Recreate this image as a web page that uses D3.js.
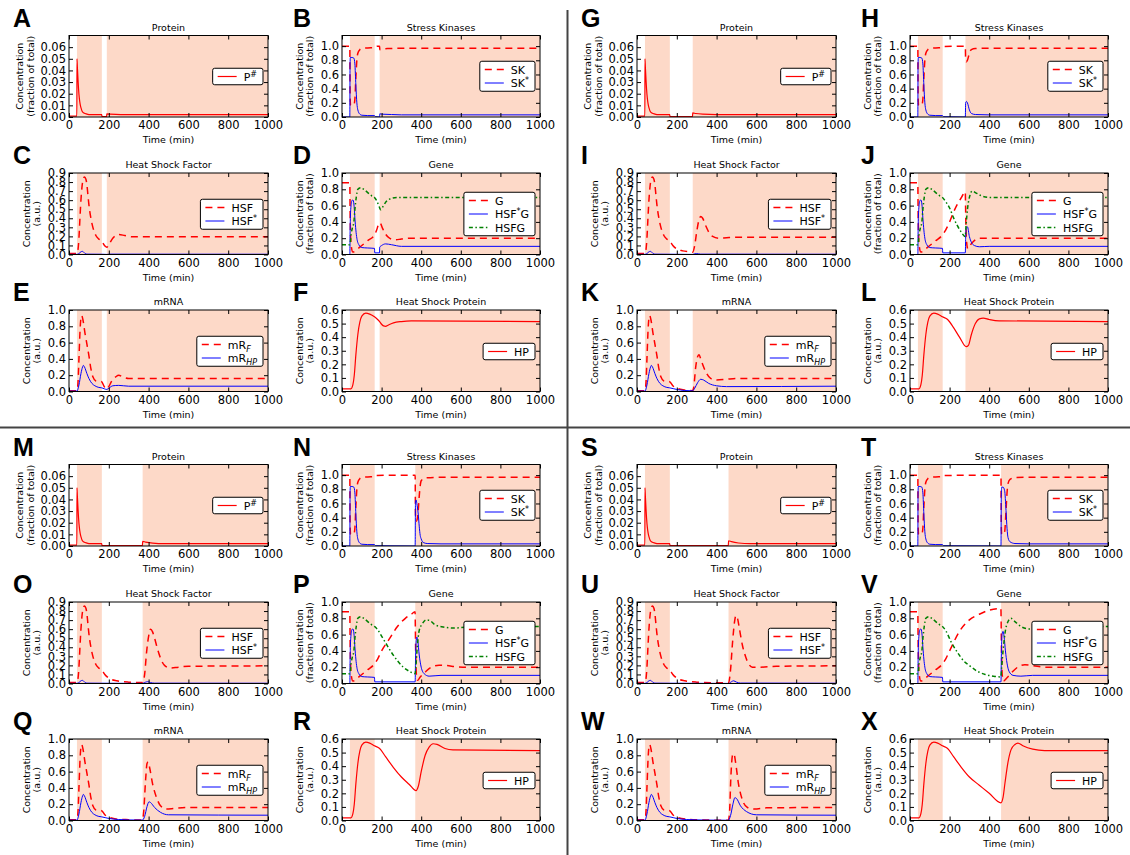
<!DOCTYPE html>
<html>
<head>
<meta charset="utf-8">
<script src="https://cdn.jsdelivr.net/npm/d3@7"></script>
<style>
  body { margin: 0; background: #fff; }
  svg { display: block; font-family: "DejaVu Sans", sans-serif; }
</style>
</head>
<body>
<script>
// time axis and heat-shock protocol (minutes)
const xTicks = [0, 200, 400, 600, 800, 1000];
const heatOn = 40, heatOff = 165;
const gapEnds = [190, 280, 370, 460];   // second heat shock starts here, one per quadrant
const letters = [["A","B","C","D","E","F"], ["G","H","I","J","K","L"],
                 ["M","N","O","P","Q","R"], ["S","T","U","V","W","X"]];

const protTicks = [0, 0.01, 0.02, 0.03, 0.04, 0.05, 0.06];
const fracTicks = [0, 0.2, 0.4, 0.6, 0.8, 1.0];
const hsfTicks = [0, 0.1, 0.2, 0.3, 0.4, 0.5, 0.6, 0.7, 0.8, 0.9];
const hpTicks = [0, 0.1, 0.2, 0.3, 0.4, 0.5, 0.6];

// first heat shock (identical in every quadrant), then one tail per quadrant
const prot1 = [[0,0.0008],[39.5,0.0008],[40,0.05],[42,0.043],[45,0.033],[48,0.024],[52,0.016],[56,0.011],[60,0.008],[66,0.005],[75,0.0035],[90,0.0025],[110,0.002],[164,0.002]];
const protTail = [
  [[166,0.0004],[189,0.0004],[190,0.0026],[205,0.0024],[260,0.002],[1000,0.002]],
  [[166,0.0004],[279,0.0004],[280,0.0035],[295,0.003],[330,0.0024],[400,0.002],[1000,0.002]],
  [[166,0.0004],[369,0.0004],[370,0.004],[385,0.0034],[420,0.0025],[480,0.002],[1000,0.002]],
  [[166,0.0004],[459,0.0004],[460,0.0045],[475,0.0037],[510,0.0026],[570,0.002],[1000,0.002]]
];

const sk1 = [[0,1],[39.5,1],[41,0.3],[43,0.17],[50,0.16],[60,0.17],[65,0.25],[70,0.55],[75,0.8],[80,0.9],[90,0.95],[100,0.965],[130,0.975],[164,0.98]];
const skTail = [
  [[170,0.995],[189.5,1],[191,0.95],[200,0.955],[230,0.965],[300,0.97],[1000,0.97]],
  [[170,0.995],[279.5,1],[281,0.8],[285,0.78],[290,0.8],[300,0.9],[310,0.95],[330,0.965],[400,0.97],[1000,0.97]],
  [[170,0.995],[369.5,1],[371,0.45],[375,0.35],[380,0.38],[385,0.5],[390,0.7],[395,0.85],[400,0.92],[420,0.96],[500,0.97],[1000,0.97]],
  [[170,0.995],[459.5,1],[461,0.3],[463,0.17],[470,0.16],[478,0.2],[485,0.5],[490,0.75],[495,0.88],[505,0.94],[530,0.965],[600,0.97],[1000,0.97]]
];
const skAct1 = [[0,0],[39.5,0],[40.5,0.7],[42,0.84],[50,0.84],[60,0.83],[65,0.75],[70,0.45],[75,0.2],[80,0.1],[90,0.04],[100,0.025],[130,0.02],[164,0.02]];
const skActTail = [
  [[170,0.004],[189.5,0],[191,0.045],[200,0.04],[250,0.035],[300,0.03],[1000,0.03]],
  [[170,0.004],[279.5,0],[281,0.2],[285,0.22],[290,0.2],[300,0.1],[310,0.05],[330,0.035],[400,0.03],[1000,0.03]],
  [[170,0.004],[369.5,0],[371,0.6],[374,0.65],[378,0.6],[385,0.45],[390,0.28],[395,0.15],[400,0.1],[410,0.05],[430,0.035],[500,0.03],[1000,0.03]],
  [[170,0.004],[459.5,0],[461,0.7],[463,0.83],[470,0.83],[478,0.78],[485,0.5],[490,0.25],[495,0.12],[505,0.06],[530,0.035],[600,0.03],[1000,0.03]]
];

const hsf1 = [[0,0.01],[40,0.01],[45,0.05],[50,0.18],[55,0.4],[60,0.6],[65,0.74],[70,0.82],[78,0.855],[85,0.83],[90,0.77],[95,0.66],[100,0.55],[110,0.4],[120,0.3],[135,0.21],[150,0.17],[164,0.15]];
const hsfTail = [
  [[175,0.11],[190,0.08],[200,0.11],[220,0.18],[250,0.22],[280,0.21],[320,0.195],[400,0.195],[1000,0.195]],
  [[180,0.1],[200,0.06],[230,0.04],[260,0.03],[280,0.025],[290,0.1],[300,0.25],[310,0.37],[320,0.42],[330,0.4],[345,0.32],[360,0.25],[380,0.2],[410,0.18],[450,0.185],[500,0.19],[1000,0.19]],
  [[180,0.1],[200,0.06],[240,0.03],[300,0.015],[370,0.01],[380,0.1],[390,0.35],[400,0.52],[410,0.6],[420,0.57],[430,0.5],[445,0.38],[460,0.28],[480,0.2],[510,0.17],[550,0.18],[600,0.19],[1000,0.195]],
  [[180,0.1],[200,0.06],[240,0.03],[300,0.015],[400,0.008],[460,0.008],[470,0.15],[480,0.45],[490,0.68],[497,0.75],[505,0.72],[515,0.6],[530,0.42],[545,0.3],[560,0.22],[580,0.18],[620,0.18],[700,0.19],[1000,0.195]]
];
const hsfAct1 = [[0,0.002],[40,0.002],[50,0.01],[60,0.03],[66,0.035],[72,0.03],[80,0.012],[90,0.004],[164,0.003]];
const hsfActTail = [
  [[190,0.001],[205,0.004],[1000,0.003]],
  [[280,0.001],[290,0.008],[300,0.01],[320,0.004],[1000,0.003]],
  [[370,0.001],[385,0.015],[395,0.02],[410,0.01],[430,0.004],[1000,0.003]],
  [[460,0.001],[475,0.02],[485,0.03],[500,0.015],[520,0.005],[1000,0.003]]
];

// gene states: free G, HSF*G, HSFG
const gFree1 = [[0,0.88],[39.5,0.88],[41,0.5],[43,0.25],[47,0.1],[55,0.03],[65,0.04],[80,0.07],[100,0.11],[130,0.17],[164,0.24]];
const gFreeTail = [
  [[175,0.3],[189,0.39],[195,0.38],[205,0.32],[220,0.25],[240,0.2],[270,0.18],[300,0.19],[350,0.2],[1000,0.2]],
  [[180,0.3],[200,0.4],[220,0.52],[240,0.62],[260,0.7],[279,0.77],[282,0.4],[286,0.15],[292,0.07],[300,0.1],[320,0.16],[350,0.2],[400,0.2],[1000,0.2]],
  [[180,0.3],[200,0.4],[240,0.55],[280,0.7],[320,0.8],[350,0.85],[369,0.88],[372,0.4],[376,0.1],[382,0.04],[395,0.08],[420,0.14],[450,0.2],[490,0.225],[530,0.22],[580,0.205],[650,0.2],[1000,0.2]],
  [[180,0.3],[200,0.4],[250,0.64],[300,0.78],[350,0.85],[400,0.9],[459,0.92],[462,0.4],[466,0.1],[472,0.03],[490,0.07],[520,0.15],[550,0.21],[580,0.23],[620,0.22],[680,0.2],[1000,0.2]]
];
const gAct1 = [[0,0],[39.5,0],[41,0.3],[44,0.55],[50,0.66],[55,0.67],[60,0.62],[65,0.45],[70,0.3],[75,0.2],[85,0.12],[100,0.085],[130,0.08],[164,0.075]];
const gActTail = [
  [[165.5,0.02],[189.5,0.02],[190.5,0.09],[200,0.11],[220,0.13],[250,0.12],[300,0.1],[1000,0.1]],
  [[165.5,0.02],[279.5,0.02],[281,0.2],[285,0.33],[290,0.34],[300,0.22],[310,0.15],[325,0.11],[350,0.095],[400,0.1],[1000,0.1]],
  [[165.5,0.02],[369.5,0.02],[371,0.25],[374,0.5],[378,0.57],[383,0.52],[390,0.35],[400,0.2],[415,0.12],[440,0.09],[500,0.1],[1000,0.1]],
  [[165.5,0.02],[459.5,0.02],[461,0.3],[465,0.6],[470,0.64],[475,0.58],[482,0.4],[490,0.25],[500,0.15],[520,0.1],[560,0.09],[620,0.1],[1000,0.1]]
];
const gBound1 = [[0,0.12],[39.5,0.12],[42,0.15],[46,0.25],[52,0.32],[60,0.4],[65,0.55],[72,0.7],[80,0.8],[95,0.82],[110,0.8],[130,0.76],[150,0.72],[164,0.7]];
const gBoundTail = [
  [[175,0.66],[189,0.58],[195,0.55],[205,0.58],[220,0.64],[240,0.68],[280,0.7],[1000,0.7]],
  [[180,0.65],[200,0.57],[220,0.45],[240,0.35],[260,0.27],[279,0.22],[283,0.35],[290,0.55],[300,0.7],[315,0.78],[330,0.76],[360,0.72],[400,0.7],[1000,0.7]],
  [[180,0.66],[200,0.58],[220,0.5],[250,0.38],[280,0.28],[310,0.2],[340,0.15],[369,0.12],[373,0.2],[380,0.45],[390,0.65],[405,0.73],[425,0.78],[445,0.77],[470,0.72],[520,0.69],[560,0.68],[620,0.69],[700,0.7],[1000,0.7]],
  [[180,0.65],[210,0.5],[240,0.38],[270,0.28],[300,0.22],[340,0.15],[380,0.11],[420,0.09],[459,0.08],[463,0.2],[470,0.4],[480,0.62],[495,0.76],[510,0.8],[530,0.76],[560,0.7],[600,0.67],[650,0.68],[700,0.7],[1000,0.7]]
];

const mrf1 = [[0,0.01],[40,0.01],[45,0.1],[50,0.4],[55,0.72],[60,0.9],[64,0.93],[70,0.88],[80,0.72],[90,0.58],[100,0.44],[110,0.28],[120,0.18],[135,0.13],[164,0.12]];
const mrfTail = [
  [[175,0.07],[190,0.03],[200,0.06],[215,0.13],[235,0.18],[250,0.2],[270,0.18],[300,0.16],[1000,0.16]],
  [[180,0.07],[200,0.04],[240,0.02],[279,0.01],[285,0.05],[295,0.3],[305,0.43],[312,0.45],[320,0.4],[335,0.3],[350,0.22],[370,0.16],[400,0.14],[450,0.15],[500,0.16],[1000,0.16]],
  [[180,0.07],[200,0.04],[250,0.015],[300,0.01],[369,0.005],[375,0.1],[385,0.5],[392,0.7],[398,0.72],[405,0.65],[420,0.45],[440,0.28],[460,0.18],[490,0.14],[530,0.15],[600,0.16],[1000,0.16]],
  [[180,0.07],[200,0.04],[250,0.015],[300,0.008],[459,0.003],[465,0.1],[472,0.55],[480,0.8],[487,0.82],[495,0.72],[510,0.45],[530,0.25],[555,0.16],[590,0.14],[650,0.155],[1000,0.16]]
];
const mrhp1 = [[0,0.005],[40,0.005],[50,0.08],[60,0.22],[68,0.3],[72,0.32],[78,0.3],[90,0.22],[100,0.16],[115,0.1],[130,0.07],[150,0.05],[164,0.045]];
const mrhpTail = [
  [[190,0.025],[200,0.04],[220,0.07],[250,0.075],[300,0.065],[1000,0.065]],
  [[200,0.025],[240,0.012],[279,0.008],[290,0.04],[305,0.11],[320,0.15],[335,0.14],[360,0.1],[400,0.07],[450,0.06],[1000,0.065]],
  [[200,0.025],[250,0.012],[300,0.007],[369,0.005],[380,0.05],[392,0.17],[402,0.23],[410,0.22],[430,0.16],[460,0.1],[500,0.07],[1000,0.065]],
  [[200,0.025],[250,0.012],[350,0.005],[459,0.003],[470,0.06],[482,0.2],[492,0.28],[500,0.27],[520,0.18],[550,0.11],[600,0.07],[1000,0.065]]
];

const hp1 = [[0,0.02],[45,0.02],[55,0.05],[62,0.12],[70,0.27],[80,0.42],[90,0.51],[100,0.555],[120,0.577],[140,0.57],[164,0.55]];
const hpTail = [
  [[180,0.53],[190,0.515],[200,0.495],[210,0.483],[220,0.48],[235,0.49],[260,0.505],[300,0.515],[350,0.52],[1000,0.515]],
  [[190,0.53],[220,0.47],[250,0.4],[284,0.33],[295,0.34],[310,0.42],[330,0.5],[350,0.535],[370,0.54],[400,0.53],[450,0.52],[1000,0.515]],
  [[190,0.53],[220,0.47],[260,0.39],[300,0.32],[340,0.265],[374,0.22],[385,0.25],[400,0.36],[420,0.48],[440,0.54],[460,0.565],[480,0.56],[520,0.53],[560,0.52],[1000,0.515]],
  [[190,0.53],[220,0.47],[260,0.39],[300,0.32],[350,0.26],[400,0.2],[459,0.13],[470,0.17],[480,0.28],[495,0.43],[510,0.52],[530,0.56],[545,0.57],[570,0.55],[620,0.525],[680,0.515],[1000,0.515]]
];

// ---------- drawing ----------
const svg = d3.select("body").append("svg").attr("width", 1130).attr("height", 855);

const lineStyles = {
  red:   { stroke: "#ff0000", width: 1.2, dash: null },
  dash:  { stroke: "#ff0000", width: 1.5, dash: "7,5" },
  blue:  { stroke: "#0000ff", width: 1.0, dash: null },
  green: { stroke: "#008000", width: 1.5, dash: "4,2.5,1.5,2.5" }
};

const panels = [
  { title: "Protein", yMax: 0.07, ticks: protTicks, fmt: ".2f", unit: "(fraction of total)", wide: true },
  { title: "Stress Kinases", yMax: 1.15, ticks: fracTicks, fmt: ".1f", unit: "(fraction of total)" },
  { title: "Heat Shock Factor", yMax: 0.9, ticks: hsfTicks, fmt: ".1f", unit: "(a.u.)" },
  { title: "Gene", yMax: 1.0, ticks: fracTicks, fmt: ".1f", unit: "(fraction of total)" },
  { title: "mRNA", yMax: 1.0, ticks: fracTicks, fmt: ".1f", unit: "(a.u.)" },
  { title: "Heat Shock Protein", yMax: 0.6, ticks: hpTicks, fmt: ".1f", unit: "(a.u.)" }
];

function seriesFor(p, k) {
  const c = (a, tail) => a.concat(tail[k]);
  if (p === 0) return [{ label: [["P"], ["#", "sup"]], style: "red", data: c(prot1, protTail) }];
  if (p === 1) return [
    { label: [["SK"]], style: "dash", data: c(sk1, skTail) },
    { label: [["SK"], ["*", "sup"]], style: "blue", data: c(skAct1, skActTail) }];
  if (p === 2) return [
    { label: [["HSF"]], style: "dash", data: c(hsf1, hsfTail) },
    { label: [["HSF"], ["*", "sup"]], style: "blue", data: c(hsfAct1, hsfActTail) }];
  if (p === 3) return [
    { label: [["G"]], style: "dash", data: c(gFree1, gFreeTail) },
    { label: [["HSF"], ["*", "sup"], ["G"]], style: "blue", data: c(gAct1, gActTail) },
    { label: [["HSFG"]], style: "green", data: c(gBound1, gBoundTail) }];
  if (p === 4) return [
    { label: [["mR"], ["F", "sub"]], style: "dash", data: c(mrf1, mrfTail) },
    { label: [["mR"], ["HP", "sub"]], style: "blue", data: c(mrhp1, mrhpTail) }];
  return [{ label: [["HP"]], style: "red", data: c(hp1, hpTail) }];
}

const colX = [69, 342], colW = [199, 198];
const rowY = [35.5, 173, 310], plotH = 81.5;
const quadOff = [[0, 0], [568, 0], [0, 429], [568, 429]];

function styleLine(sel, st) {
  sel.attr("fill", "none").attr("stroke", st.stroke).attr("stroke-width", st.width);
  if (st.dash) sel.attr("stroke-dasharray", st.dash);
  return sel;
}

function writeLabel(text, parts) {
  let shift = 0;
  parts.forEach(([t, mode]) => {
    const target = mode === "sup" ? -4 : mode === "sub" ? 3 : 0;
    const ts = text.append("tspan").attr("dy", target - shift).text(t);
    if (mode) ts.attr("font-size", 8);
    if (mode === "sub") ts.attr("font-style", "italic");
    shift = target;
  });
}

function drawLegend(g, series, w, h, top) {
  const lg = g.append("g");
  const box = lg.append("rect").attr("fill", "#fff").attr("stroke", "#000")
    .attr("stroke-width", 1).attr("rx", 2);
  const rowH = 13.5, pad = 1.5;
  const texts = [];
  series.forEach((s, i) => {
    const yy = pad + rowH / 2 + i * rowH;
    styleLine(lg.append("line").attr("x1", 5).attr("x2", 24).attr("y1", yy).attr("y2", yy),
      lineStyles[s.style]);
    const t = lg.append("text").attr("x", 31).attr("y", yy + 4).attr("font-size", 11);
    writeLabel(t, s.label);
    texts.push(t);
  });
  const tw = d3.max(texts, t => t.node().getComputedTextLength());
  const bw = 31 + tw + 6, bh = rowH * series.length + 2 * pad;
  box.attr("width", bw).attr("height", bh);
  const ty = Math.round(top + h / 2 - bh / 2) - top + 0.25;
  lg.attr("transform", `translate(${w - 5 - bw},${ty})`);
}

let clipId = 0;
quadOff.forEach(([ox, oy], k) => {
  panels.forEach((spec, p) => {
    const col = p % 2, row = Math.floor(p / 2);
    const left = ox + colX[col], top = oy + rowY[row];
    const w = colW[col], h = plotH;
    const g = svg.append("g").attr("transform", `translate(${left},${top})`);

    const x = d3.scaleLinear().domain([0, 1000]).range([0, w]);
    const y = d3.scaleLinear().domain([0, spec.yMax]).range([h, 0]);

    // heat shock periods
    [[heatOn, heatOff], [gapEnds[k], 1000]].forEach(([a, b]) => {
      g.append("rect").attr("x", x(a)).attr("y", 0).attr("width", x(b) - x(a)).attr("height", h)
        .attr("fill", "#fdd9c8");
    });

    const id = "clip" + (clipId++);
    g.append("clipPath").attr("id", id).append("rect").attr("width", w).attr("height", h);

    const line = d3.line().x(d => x(d[0])).y(d => y(d[1])).curve(d3.curveMonotoneX);
    const series = seriesFor(p, k);
    series.forEach(s => {
      styleLine(g.append("path").datum(s.data).attr("clip-path", `url(#${id})`).attr("d", line),
        lineStyles[s.style]);
    });

    // axes with inward ticks on all four sides
    const fmt = d3.format(spec.fmt);
    const styleAxis = a => {
      a.select(".domain").remove();
      a.selectAll("text").attr("font-family", "DejaVu Sans").attr("font-size", 11.5).attr("fill", "#000");
    };
    g.append("g").attr("transform", `translate(0,${h})`)
      .call(d3.axisBottom(x).tickValues(xTicks).tickSizeInner(-4).tickSizeOuter(0).tickPadding(4)
        .tickFormat(d3.format("d")))
      .call(styleAxis);
    g.append("g")
      .call(d3.axisTop(x).tickValues(xTicks).tickSizeInner(-4).tickSizeOuter(0).tickFormat(""))
      .call(styleAxis);
    g.append("g")
      .call(d3.axisLeft(y).tickValues(spec.ticks).tickSizeInner(-4).tickSizeOuter(0).tickPadding(3).tickFormat(fmt))
      .call(styleAxis);
    g.append("g").attr("transform", `translate(${w},0)`)
      .call(d3.axisRight(y).tickValues(spec.ticks).tickSizeInner(-4).tickSizeOuter(0).tickFormat(""))
      .call(styleAxis);

    g.append("rect").attr("width", w).attr("height", h).attr("fill", "none")
      .attr("stroke", "#000").attr("stroke-width", 1);

    drawLegend(g, series, w, h, top);

    g.append("text").attr("x", w / 2).attr("y", -5).attr("text-anchor", "middle")
      .attr("font-size", 9.5).text(spec.title);
    g.append("text").attr("x", w / 2).attr("y", h + 26).attr("text-anchor", "middle")
      .attr("font-size", 9.5).text("Time (min)");

    const l1 = spec.wide ? -46.5 : -39.5, l2 = spec.wide ? -35.5 : -29;
    [["Concentration", l1], [spec.unit, l2]].forEach(([t, dx]) => {
      g.append("text").attr("transform", `translate(${dx},${h / 2}) rotate(-90)`)
        .attr("text-anchor", "middle").attr("font-size", 9.5).text(t);
    });

    svg.append("text").attr("x", ox + (col === 0 ? 13 : 293)).attr("y", top - 9)
      .attr("font-family", "Liberation Sans, Arial, sans-serif").attr("font-weight", "bold")
      .attr("font-size", 25).text(letters[k][p]);
  });
});

// quadrant dividers
svg.append("line").attr("x1", 567.5).attr("x2", 567.5).attr("y1", 10).attr("y2", 855)
  .attr("stroke", "#444").attr("stroke-width", 2);
svg.append("line").attr("x1", 0).attr("x2", 1130).attr("y1", 427.5).attr("y2", 427.5)
  .attr("stroke", "#444").attr("stroke-width", 2);
</script>
</body>
</html>
